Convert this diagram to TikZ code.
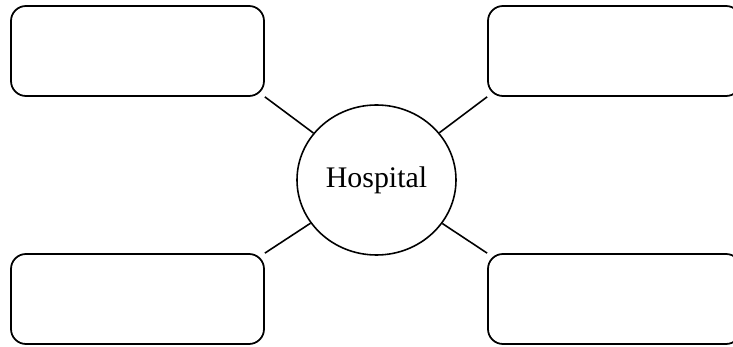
\documentclass[tikz,border=0pt]{standalone}
\usepackage{fontspec}
\setmainfont{Liberation Serif}
\usepackage{tikz}
\usetikzlibrary{shapes,positioning,calc}

\begin{document}
\begin{tikzpicture}[
                entry/.style={rounded corners=8.5pt,draw=black,line width=1pt,
                            minimum width=5.06cm,minimum height=1.8cm,inner sep=0pt},
                topic/.style={ellipse,draw=black,line width=0.9pt,minimum width=3.18cm,
                            minimum height=3cm,inner sep=0pt,font=\fontsize{17}{20}\selectfont},
                link/.style={line width=0.9pt}
            ]
                \useasboundingbox[clip] (0,0) rectangle (14.66,-6.94);
                \node[topic] (hospital) at (7.53,-3.6) {Hospital};
                \node[entry] (boxNW) at (2.75,-1.02) {};
                \node[entry] (boxNE) at (12.29,-1.02) {};
                \node[entry] (boxSW) at (2.75,-5.98) {};
                \node[entry] (boxSE) at (12.29,-5.98) {};
                \draw[link] (boxNW.south east) -- (hospital);
                \draw[link] (boxNE.south west) -- (hospital);
                \draw[link] (boxSW.north east) -- (hospital);
                \draw[link] (boxSE.north west) -- (hospital);
            \end{tikzpicture}
\end{document}
